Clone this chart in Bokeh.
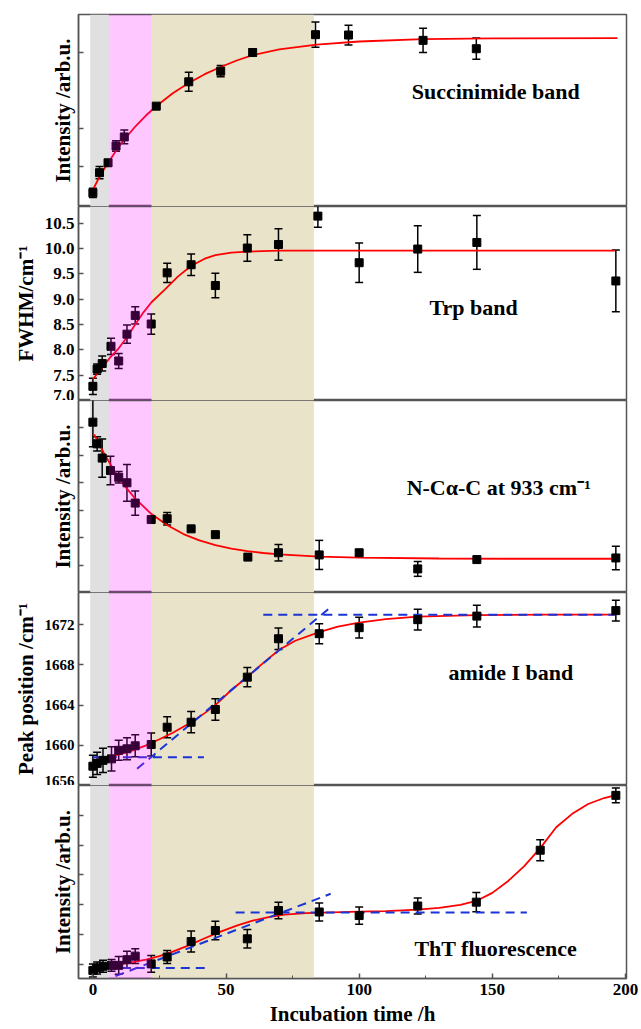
from bokeh.plotting import figure
from bokeh.layouts import column
from bokeh.models import (BoxAnnotation, Whisker, TeeHead, ColumnDataSource, Label,
                          FixedTicker, PrintfTickFormatter, Range1d)
from bokeh.embed import file_html
from bokeh.resources import INLINE

# ---------------- data ----------------
phase_edges = [-1, 6, 22, 83]          # gray | pink | tan shaded phases (h)

# Panel 1: Succinimide band
t_succ = [0, 2.5, 5.7, 8.7, 11.8, 23.8, 36, 48, 60, 83.6, 96, 124, 144]
y_succ = [0.31, 0.84, 1.10, 1.54, 1.78, 2.59, 3.23, 3.51, 4.00, 4.47, 4.46, 4.32, 4.10]
e_succ = [0.12, 0.16, 0.08, 0.14, 0.18, 0.06, 0.25, 0.15, 0.10, 0.33, 0.26, 0.32, 0.28]
fit_t_succ = [0.3, 3, 6, 9, 12, 16, 20, 24, 30, 36, 42, 48, 54, 60, 70, 84, 100, 124, 150, 197]
fit_y_succ = [0.43, 0.80, 1.13, 1.45, 1.73, 2.06, 2.35, 2.60, 2.93, 3.20, 3.43, 3.62, 3.79,
              3.93, 4.08, 4.21, 4.29, 4.35, 4.37, 4.38]

# Panel 2: Trp band FWHM
t_trp = [0, 1.6, 3.5, 6.8, 9.7, 12.8, 15.9, 21.9, 27.9, 36.9, 46, 58, 69.7, 84.5, 100, 122, 144.2, 196.4]
y_trp = [7.28, 7.62, 7.73, 8.07, 7.78, 8.31, 8.68, 8.51, 9.52, 9.68, 9.27, 10.01, 10.08, 10.64,
         9.72, 9.99, 10.12, 9.36]
e_trp = [0.16, 0.10, 0.15, 0.16, 0.15, 0.18, 0.17, 0.20, 0.19, 0.21, 0.24, 0.26, 0.31, 0.22,
         0.39, 0.46, 0.53, 0.61]
fit_t_trp = [0, 3, 6.5, 9.7, 12.8, 15.9, 19, 22, 27, 32, 37, 42, 46, 52, 58, 70, 85, 100, 140, 196]
fit_y_trp = [7.42, 7.62, 7.85, 8.03, 8.25, 8.50, 8.74, 8.94, 9.19, 9.45, 9.66, 9.80, 9.87, 9.92,
             9.94, 9.96, 9.96, 9.96, 9.96, 9.96]

# Panel 3: N-Ca-C at 933 cm-1
t_ncc = [0, 1.6, 3.5, 6.6, 9.7, 12.8, 15.9, 21.9, 27.9, 36.9, 46, 58.2, 69.7, 85, 100, 122, 144.2, 196.4]
y_ncc = [6.21, 5.42, 4.90, 4.45, 4.20, 4.00, 3.26, 2.66, 2.69, 2.32, 2.11, 1.29, 1.45, 1.37,
         1.45, 0.86, 1.20, 1.26]
e_ncc = [0.90, 0.26, 0.70, 0.52, 0.21, 0.67, 0.44, 0.05, 0.23, 0.04, 0.05, 0.06, 0.30, 0.53,
         0.10, 0.27, 0.03, 0.43]
fit_t_ncc = [0.5, 4, 8, 12, 16, 22, 28, 34, 40, 46, 52, 58, 64, 70, 85, 100, 130, 160, 197]
fit_y_ncc = [5.76, 5.11, 4.44, 3.88, 3.41, 2.86, 2.45, 2.13, 1.90, 1.73, 1.60, 1.51, 1.44,
             1.39, 1.31, 1.27, 1.24, 1.23, 1.23]

# Panel 4: amide I band peak position
t_am = [0, 1.6, 3.8, 7, 9.7, 12.8, 15.9, 21.9, 27.9, 36.9, 46, 58, 69.7, 85, 100, 122, 144.2, 196.4]
y_am = [1657.92, 1658.2, 1658.5, 1658.65, 1659.5, 1659.65, 1659.95, 1660.08, 1661.8, 1662.3,
        1663.56, 1666.78, 1670.6, 1671.1, 1671.7, 1672.5, 1672.85, 1673.4]
e_am = [1.1, 1.1, 1.2, 1.2, 1.0, 1.1, 1.1, 1.15, 1.05, 1.05, 1.07, 0.96, 1.08, 1.0, 1.03,
        1.03, 1.08, 1.04]
fit_t_am = [0, 5, 10, 15, 20, 25, 30, 37, 42, 46, 52, 58, 64, 70, 76, 85, 92, 100, 110, 122,
            144, 170, 196]
fit_y_am = [1658.5, 1658.75, 1659.1, 1659.5, 1660.0, 1660.6, 1661.25, 1662.3, 1663.2, 1664.0,
            1665.5, 1666.8, 1668.2, 1669.5, 1670.4, 1671.25, 1671.8, 1672.2, 1672.55, 1672.8,
            1672.95, 1673.0, 1673.0]
guide_am_t = [[0, 41.7], [16.6, 90], [64, 196]]
guide_am_y = [[1658.8, 1658.8], [1657.66, 1673.9], [1672.98, 1672.98]]

# Panel 5: ThT fluorescence
t_tht = [0, 1.6, 3.8, 7, 9.7, 12.8, 15.9, 21.9, 27.9, 36.9, 46, 58, 69.7, 85, 100, 122, 144, 168, 196.4]
y_tht = [-0.20, -0.12, -0.06, -0.03, -0.03, 0.16, 0.28, 0.02, 0.25, 0.77, 1.14, 0.86, 1.81,
         1.76, 1.64, 1.96, 2.09, 3.83, 5.67]
e_tht = [0.22, 0.20, 0.20, 0.20, 0.30, 0.28, 0.25, 0.28, 0.22, 0.35, 0.31, 0.31, 0.28, 0.30,
         0.29, 0.27, 0.32, 0.35, 0.25]
fit_t_tht = [0, 5, 10, 15, 20, 25, 30, 36, 42, 48, 54, 60, 66, 72, 80, 90, 100, 110, 122, 130,
             138, 144, 150, 156, 162, 168, 174, 180, 186, 192, 196]
fit_y_tht = [-0.12, -0.07, 0.0, 0.08, 0.16, 0.28, 0.43, 0.64, 0.88, 1.10, 1.30, 1.47, 1.59,
             1.67, 1.72, 1.75, 1.77, 1.79, 1.84, 1.90, 2.00, 2.13, 2.40, 2.80, 3.30, 3.90,
             4.60, 5.05, 5.38, 5.58, 5.67]
guide_tht_t = [[-0.8, 43], [8.5, 89.3], [53.6, 163]]
guide_tht_y = [[-0.12, -0.12], [-0.39, 2.37], [1.74, 1.74]]

x_ticks = [0, 50, 100, 150, 200]
x_minor = [25, 75, 125, 175]

# ---------------- styling ----------------
FONT = "Liberation Serif"
FRAME_W = 548
X_RANGE = Range1d(-5.4, 200.4)
GRAY = "#e0e0e0"
TAN = "#e8e3c9"
RED = "#ff0000"
BLUE = "#1a35d6"
EDGE = "#555555"


def make_panel(frame_h, y_range, y_ticks, show_y_labels, y_label, t, y, e,
               fit_t, fit_y, text, text_xy, guides=None, last=False, top=False,
               tick_font="17px", fmt="%.1f"):
    p = figure(frame_width=FRAME_W, frame_height=frame_h, x_range=X_RANGE,
               y_range=Range1d(*y_range), output_backend="svg", toolbar_location=None,
               min_border_left=78, min_border_right=15,
               min_border_top=14 if top else 0, min_border_bottom=0)
    p.background_fill_color = "white"
    p.grid.visible = False
    p.outline_line_color = EDGE
    p.outline_line_width = 1.5

    # shaded phases
    p.add_layout(BoxAnnotation(left=phase_edges[0], right=phase_edges[1], fill_color=GRAY,
                               fill_alpha=1.0, line_color=None, level="underlay"))
    p.add_layout(BoxAnnotation(left=phase_edges[2], right=phase_edges[3], fill_color=TAN,
                               fill_alpha=1.0, line_color=None, level="underlay"))
    p.add_layout(BoxAnnotation(left=phase_edges[1], right=phase_edges[2], fill_color="#ff00ff",
                               fill_alpha=0.22, line_color=None, level="overlay"))

    # fit curve
    p.line(fit_t, fit_y, line_color=RED, line_width=1.8)
    # guide lines
    if guides is not None:
        gt, gy = guides
        for xs, ys in zip(gt, gy):
            p.line(xs, ys, line_color=BLUE, line_width=2, line_dash="9 6")

    # data points with error bars
    src = ColumnDataSource(dict(t=t, y=y,
                                lo=[a - b for a, b in zip(y, e)],
                                hi=[a + b for a, b in zip(y, e)]))
    p.add_layout(Whisker(base="t", lower="lo", upper="hi", source=src,
                         line_color="black", line_width=1.5,
                         upper_head=TeeHead(size=8, line_width=1.5, line_color="black"),
                         lower_head=TeeHead(size=8, line_width=1.5, line_color="black")))
    p.scatter("t", "y", source=src, marker="square", size=8, fill_color="black",
              line_color="black")

    # y axis
    ya = p.yaxis[0]
    ya.ticker = FixedTicker(ticks=y_ticks, minor_ticks=[])
    ya.major_tick_in = 5
    ya.major_tick_out = 0
    ya.minor_tick_in = 0
    ya.minor_tick_out = 0
    ya.axis_line_color = EDGE
    ya.axis_line_width = 1.5
    ya.major_tick_line_color = EDGE
    ya.major_tick_line_width = 1.5
    ya.axis_label = y_label
    ya.axis_label_text_font = FONT
    ya.axis_label_text_font_style = "bold"
    ya.axis_label_text_font_size = "21px"
    ya.axis_label_text_color = "black"
    ya.axis_label_standoff = 4
    ya.major_label_text_font = FONT
    ya.major_label_text_font_style = "bold"
    ya.major_label_text_color = "black"
    ya.major_label_text_font_size = tick_font
    if show_y_labels:
        ya.formatter = PrintfTickFormatter(format=fmt)
        ya.major_label_standoff = 4
    else:
        ya.major_label_overrides = {tk: "" for tk in y_ticks}
        ya.major_label_standoff = 2

    # x axis
    if last:
        xa = p.xaxis[0]
        xa.ticker = FixedTicker(ticks=x_ticks, minor_ticks=x_minor)
        xa.major_tick_in = 5
        xa.major_tick_out = 0
        xa.minor_tick_in = 3
        xa.minor_tick_out = 0
        xa.axis_line_color = EDGE
        xa.axis_line_width = 1.5
        xa.major_tick_line_color = EDGE
        xa.minor_tick_line_color = EDGE
        xa.major_tick_line_width = 1.5
        xa.major_label_text_font = FONT
        xa.major_label_text_font_style = "bold"
        xa.major_label_text_font_size = "17px"
        xa.major_label_text_color = "black"
        xa.major_label_standoff = 5
        xa.axis_label = "Incubation time /h"
        xa.axis_label_text_font = FONT
        xa.axis_label_text_font_style = "bold"
        xa.axis_label_text_font_size = "21px"
        xa.axis_label_text_color = "black"
        xa.axis_label_standoff = 4
        p.min_border_bottom = 40
    else:
        p.xaxis.visible = False

    p.add_layout(Label(x=text_xy[0], y=text_xy[1], text=text, text_align="center",
                       text_baseline="middle", text_font=FONT, text_font_style="bold",
                       text_font_size="22px", text_color="black"))
    return p


p1 = make_panel(192, (-0.05, 5.0), [1, 2, 4], False, "Intensity /arb.u.",
                t_succ, y_succ, e_succ, fit_t_succ, fit_y_succ,
                "Succinimide band", (151.3, 2.98), top=True)
p2 = make_panel(194, (7.0, 10.83), [7.0, 7.5, 8.0, 8.5, 9.0, 9.5, 10.0, 10.5], True,
                "FWHM/cm\u207b\u00b9", t_trp, y_trp, e_trp, fit_t_trp, fit_y_trp,
                "Trp band", (143, 8.83))
p3 = make_panel(192, (0.0, 7.0), [1, 2, 3, 4, 5, 6], False, "Intensity /arb.u.",
                t_ncc, y_ncc, e_ncc, fit_t_ncc, fit_y_ncc,
                "N-C\u03b1-C at 933 cm\u207b\u00b9", (152.4, 3.83))
p4 = make_panel(193, (1656, 1675.2), [1656, 1660, 1664, 1668, 1672], True,
                "Peak position /cm\u207b\u00b9", t_am, y_am, e_am, fit_t_am, fit_y_am,
                "amide I band", (157, 1667.2), guides=(guide_am_t, guide_am_y),
                tick_font="15px", fmt="%d")
p5 = make_panel(193, (-0.47, 6.0), [0, 1, 2, 3, 4, 5], False, "Intensity /arb.u.",
                t_tht, y_tht, e_tht, fit_t_tht, fit_y_tht,
                "ThT fluorescence", (151.3, 0.54), guides=(guide_tht_t, guide_tht_y),
                last=True)

layout = column(p1, p2, p3, p4, p5, spacing=0)
open("out.html", "w").write(file_html(layout, INLINE))
